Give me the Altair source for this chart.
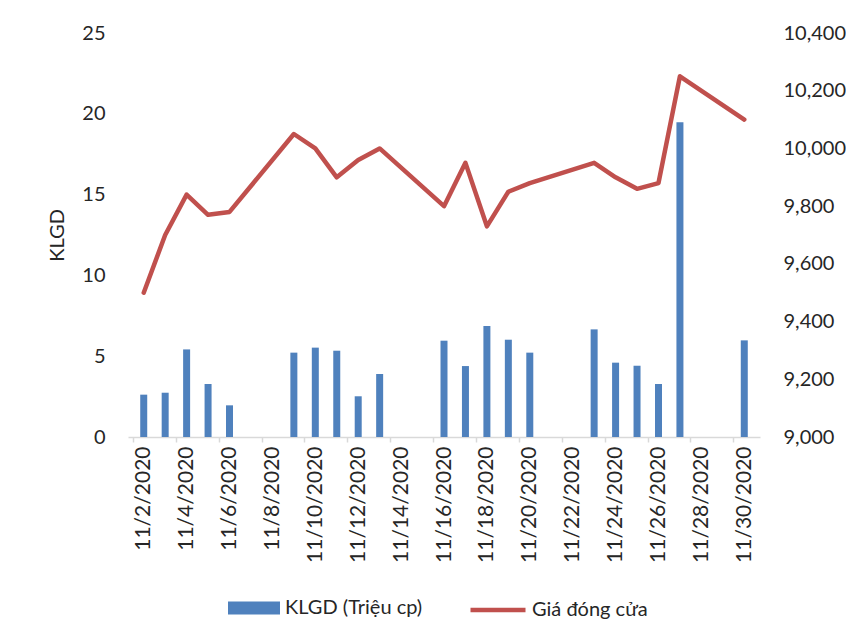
import altair as alt
import pandas as pd

dates = ["2020-11-02", "2020-11-03", "2020-11-04", "2020-11-05", "2020-11-06",
         "2020-11-09", "2020-11-10", "2020-11-11", "2020-11-12", "2020-11-13",
         "2020-11-16", "2020-11-17", "2020-11-18", "2020-11-19", "2020-11-20",
         "2020-11-23", "2020-11-24", "2020-11-25", "2020-11-26", "2020-11-27",
         "2020-11-30"]
klgd = [2.62, 2.74, 5.42, 3.28, 1.96,
        5.22, 5.53, 5.34, 2.52, 3.90,
        5.96, 4.39, 6.87, 6.02, 5.22,
        6.66, 4.60, 4.41, 3.28, 19.47,
        5.98]
price = [9500, 9700, 9840, 9770, 9780,
         10050, 10000, 9900, 9960, 10000,
         9800, 9950, 9730, 9850, 9880,
         9950, 9900, 9860, 9880, 10250,
         10100]
tick_days = list(range(2, 31, 2))
left_ticks = [0, 5, 10, 15, 20, 25]
right_ticks = list(range(9000, 10401, 200))

df = pd.DataFrame({"date": dates, "klgd": klgd, "price": price})

FONT = "Lato"
TXT = "#262626"
BLUE = "#4F81BD"
RED = "#C0504D"

x_enc = alt.X(
    "date:T",
    scale=alt.Scale(type="utc",
                    domain=[alt.DateTime(year=2020, month=11, date=1, hours=12, utc=True),
                            alt.DateTime(year=2020, month=11, date=30, hours=12, utc=True)]),
    axis=alt.Axis(values=[alt.DateTime(year=2020, month=11, date=d, utc=True) for d in tick_days],
                  format="%-m/%-d/%Y", labelAngle=-90, labelAlign="right", labelBaseline="middle",
                  labelFont=FONT, labelFontSize=21, labelColor=TXT, labelPadding=4,
                  labelFlush=False, labelOverlap=False,
                  tickOffset=-10.9, labelOffset=10.9, tickSize=5, tickColor="#D9D9D9",
                  domainColor="#D9D9D9", domainWidth=1.5, tickWidth=1.5, grid=False, title=None),
)

bars = alt.Chart(df).mark_bar(size=7).encode(
    x=x_enc,
    y=alt.Y("klgd:Q", scale=alt.Scale(domain=[0, 25]),
            axis=alt.Axis(values=left_ticks, title="KLGD", titleFont=FONT, titleFontSize=20,
                          titleFontWeight="normal", titleColor=TXT, titlePadding=14,
                          labelFont=FONT, labelFontSize=20, labelColor=TXT, labelPadding=23,
                          domain=False, ticks=False, grid=False)),
    color=alt.Color("s:N", scale=alt.Scale(domain=["KLGD (Triệu cp)"], range=[BLUE]),
                    legend=alt.Legend(orient="none", legendX=100, legendY=549, title=None,
                                      symbolType="M-1,-0.25H1V0.25H-1Z", symbolSize=2704,
                                      symbolStrokeWidth=0, labelFont=FONT, labelFontSize=20,
                                      labelColor=TXT, labelOffset=5, labelLimit=300)),
).transform_calculate(s="'KLGD (Triệu cp)'")

line = alt.Chart(df).mark_line(strokeWidth=4.5, strokeCap="round", strokeJoin="round").encode(
    x=x_enc,
    y=alt.Y("price:Q", scale=alt.Scale(domain=[9000, 10400]),
            axis=alt.Axis(values=right_ticks, orient="right", format=",.0f", title=None,
                          labelFont=FONT, labelFontSize=20, labelColor=TXT, labelPadding=23,
                          domain=False, ticks=False, grid=False)),
    color=alt.Color("s:N", scale=alt.Scale(domain=["Giá đóng cửa"], range=[RED]),
                    legend=alt.Legend(orient="none", legendX=340, legendY=547, title=None,
                                      symbolType="stroke", symbolSize=3025,
                                      symbolStrokeWidth=4.5, labelFont=FONT, labelFontSize=20,
                                      labelColor=TXT, labelOffset=4, labelLimit=300)),
).transform_calculate(s="'Giá đóng cửa'")

chart = alt.layer(bars, line).resolve_scale(y="independent", color="independent").properties(
    width=632, height=404,
    autosize=alt.AutoSizeParams(type="none"),
    padding={"left": 120, "top": 25, "right": 86, "bottom": 195},
).configure_view(stroke=None)

chart.save("out.html", embed_options={"renderer": "svg", "actions": False})
